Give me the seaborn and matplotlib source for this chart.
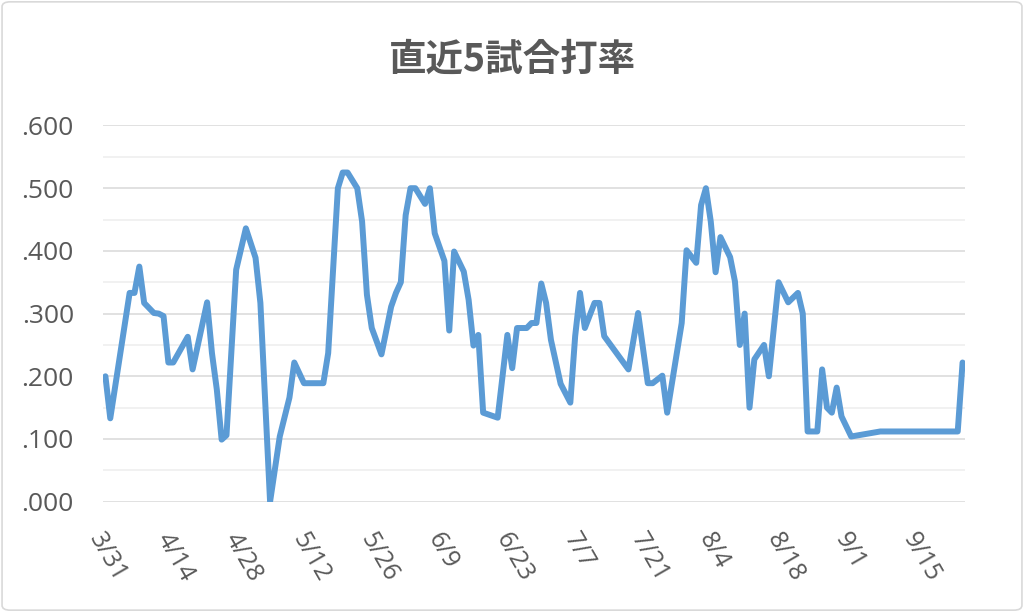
import matplotlib
matplotlib.use("Agg")
import matplotlib.pyplot as plt
import seaborn as sns
import pandas as pd
from matplotlib.patches import FancyBboxPatch
from matplotlib.ticker import MultipleLocator, FuncFormatter

# ---- data ----
year = 2019
dates = [
    "3/31", "4/1", "4/5", "4/6", "4/7", "4/8", "4/10", "4/11", "4/12", "4/13",
    "4/14", "4/17", "4/18", "4/21", "4/22", "4/23", "4/24", "4/25", "4/27", "4/29",
    "5/1", "5/2", "5/4", "5/6", "5/8", "5/9", "5/11", "5/15", "5/16", "5/18",
    "5/19", "5/20", "5/22", "5/23", "5/24", "5/25", "5/27", "5/29", "5/30", "5/31",
    "6/1", "6/2", "6/3", "6/5", "6/6", "6/7", "6/9", "6/10", "6/11", "6/13",
    "6/14", "6/15", "6/16", "6/17", "6/20", "6/22", "6/23", "6/24", "6/26", "6/27",
    "6/28", "6/29", "6/30", "7/1", "7/3", "7/5", "7/6", "7/7", "7/8", "7/10",
    "7/11", "7/12", "7/17", "7/19", "7/21", "7/22", "7/24", "7/25", "7/28", "7/29",
    "7/31", "8/1", "8/2", "8/3", "8/4", "8/5", "8/7", "8/8", "8/9", "8/10",
    "8/11", "8/12", "8/14", "8/15", "8/17", "8/19", "8/21", "8/22", "8/23", "8/25",
    "8/26", "8/27", "8/28", "8/29", "8/30", "9/1", "9/7", "9/23", "9/24",
]
avg5 = [
    0.200, 0.133, 0.333, 0.333, 0.375, 0.317, 0.301, 0.300, 0.296, 0.222,
    0.222, 0.263, 0.211, 0.318, 0.237, 0.179, 0.099, 0.106, 0.370, 0.436,
    0.389, 0.317, 0.000, 0.104, 0.166, 0.222, 0.189, 0.189, 0.237, 0.500,
    0.525, 0.525, 0.500, 0.447, 0.330, 0.277, 0.235, 0.311, 0.333, 0.350,
    0.457, 0.500, 0.500, 0.475, 0.500, 0.428, 0.384, 0.273, 0.399, 0.367,
    0.322, 0.249, 0.266, 0.142, 0.134, 0.266, 0.213, 0.277, 0.277, 0.285,
    0.285, 0.348, 0.317, 0.258, 0.188, 0.158, 0.264, 0.333, 0.277, 0.317,
    0.317, 0.264, 0.211, 0.301, 0.189, 0.189, 0.201, 0.142, 0.285, 0.401,
    0.381, 0.473, 0.500, 0.447, 0.366, 0.422, 0.390, 0.351, 0.250, 0.300,
    0.150, 0.227, 0.250, 0.200, 0.350, 0.318, 0.333, 0.300, 0.112, 0.112,
    0.211, 0.150, 0.142, 0.182, 0.136, 0.104, 0.112, 0.112, 0.222,
]
tick_labels = ["3/31", "4/14", "4/28", "5/12", "5/26", "6/9", "6/23",
               "7/7", "7/21", "8/4", "8/18", "9/1", "9/15"]
title = "直近5試合打率"

df = pd.DataFrame({
    "date": pd.to_datetime([f"{year}/{d}" for d in dates], format="%Y/%m/%d"),
    "avg": avg5,
})
tick_dates = pd.to_datetime([f"{year}/{t}" for t in tick_labels], format="%Y/%m/%d")

sns.set_theme(style="white")
plt.rcParams["font.family"] = ["Open Sans", "DejaVu Sans"]

fig = plt.figure(figsize=(10.24, 6.12), dpi=100)
ax = fig.add_axes([103 / 1024, 1 - 501.7 / 612, (965 - 103) / 1024, (501.7 - 125.5) / 612])

sns.lineplot(data=df, x="date", y="avg", ax=ax, color="#5B9BD5", linewidth=4.3,
             solid_joinstyle="round", solid_capstyle="round")

half = pd.Timedelta(hours=12)
ax.set_xlim(df["date"].min() - half, df["date"].max() + half)
ax.set_ylim(0, 0.6)

ax.yaxis.set_major_locator(MultipleLocator(0.1))
ax.yaxis.set_minor_locator(MultipleLocator(0.05))
ax.yaxis.set_major_formatter(FuncFormatter(lambda v, p: f"{v:.3f}"[1:]))
ax.set_axisbelow(True)
ax.grid(which="major", axis="y", color="#D9D9D9", linewidth=1.1)
ax.grid(which="minor", axis="y", color="#EEEEEE", linewidth=1.1)
ax.grid(which="major", axis="x", visible=False)

ax.set_xticks(tick_dates)
ax.set_xticklabels(tick_labels, rotation=-60, ha="left", va="top",
                   rotation_mode="anchor")
ax.tick_params(axis="x", which="both", length=0, pad=19, labelsize=18, labelcolor="#595959")
ax.tick_params(axis="y", which="both", length=0, pad=21, labelsize=19, labelcolor="#595959")

for s in ax.spines.values():
    s.set_visible(False)
ax.set_xlabel("")
ax.set_ylabel("")

fig.text(0.5, 1 - 59 / 612, title, ha="center", va="center", fontsize=27,
         fontweight="bold", color="#595959",
         family=["Noto Sans CJK JP", "DejaVu Sans"])

border = FancyBboxPatch((0.002, 0.003), 0.996, 0.994, transform=fig.transFigure,
                        boxstyle="round,pad=0,rounding_size=0.008",
                        fill=False, edgecolor="#D9D9D9", linewidth=1.2)
fig.patches.append(border)

fig.savefig("out.png", dpi=100)
